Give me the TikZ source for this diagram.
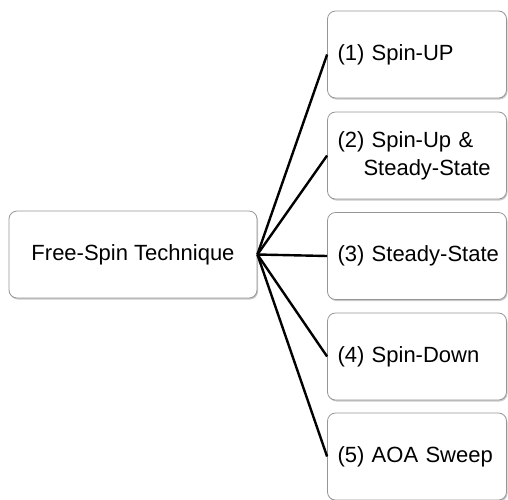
\documentclass[tikz,border=0pt]{standalone}
\usepackage{fontspec}
\setmainfont{Liberation Sans}
\usetikzlibrary{shadows}
\definecolor{boxline}{RGB}{150,150,150}
\tikzset{
  box/.style={draw=boxline, line width=0.8pt, fill=white, rounded corners=8pt,
    drop shadow={shadow xshift=1pt, shadow yshift=-1.5pt, fill=black!35, opacity=0.6},
    minimum height=87pt, inner sep=0pt},
  leftbox/.style={box, minimum width=248pt},
  rightbox/.style={box, minimum width=179pt, inner xsep=10pt, text width=159pt, align=left},
  conn/.style={draw=black, line width=2.4pt},
  lbl/.style={font=\fontsize{22}{28}\selectfont}
}
\begin{document}
\begin{tikzpicture}[x=1pt,y=-1pt]
\useasboundingbox (0,0) rectangle (508,499);
\node[leftbox, lbl] (root) at (133,254.5) {Free-Spin Technique};
\node[rightbox, lbl] (b1) at (417,54.5) {\mbox{(1) Spin-UP}};
\node[rightbox, lbl] (b2) at (417,155.5) {\mbox{(2) Spin-Up \&}\\\mbox{\hspace*{26pt}Steady-State}};
\node[rightbox, lbl] (b3) at (417,256) {\mbox{(3) Steady-State}};
\node[rightbox, lbl] (b4) at (417,356.5) {\mbox{(4) Spin-Down}};
\node[rightbox, lbl] (b5) at (417,456.5) {\mbox{(5) AOA Sweep}};
\foreach \b in {b1,b2,b3,b4,b5}{
  \draw[conn] (root.east) -- (\b.west);
}
\end{tikzpicture}
\end{document}
